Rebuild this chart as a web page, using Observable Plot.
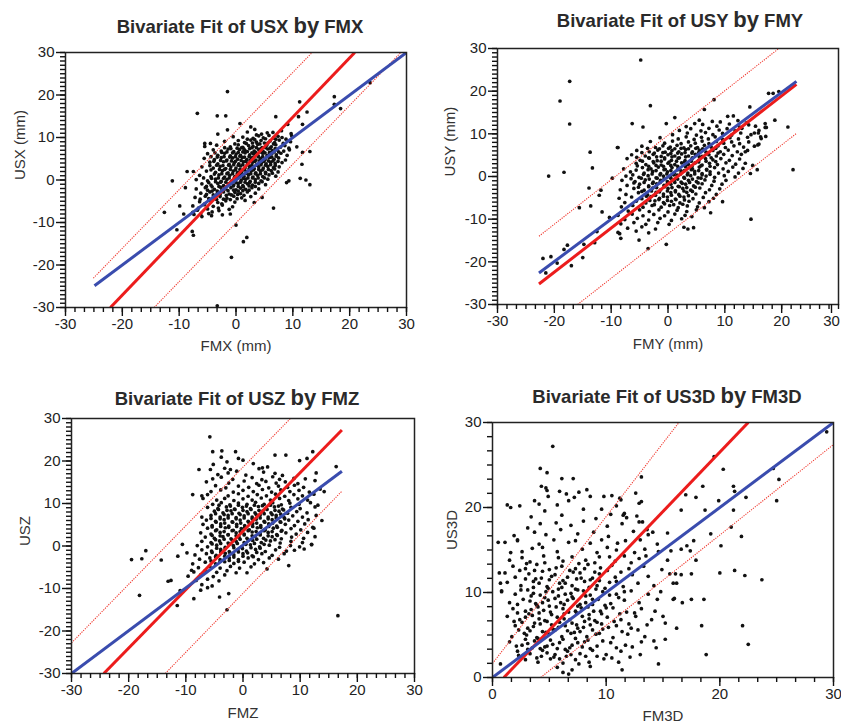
<!DOCTYPE html>
<html><head><meta charset="utf-8">
<script src="https://cdn.jsdelivr.net/npm/d3@7"></script>
<script src="https://cdn.jsdelivr.net/npm/@observablehq/plot@0.6"></script>
<style>
body{margin:0;background:#fff;font-family:"Liberation Sans",Arial,sans-serif;}
#wrap{position:relative;width:841px;height:727px;overflow:hidden;background:#fff;}
.panel{position:absolute;}
.title{position:absolute;font-weight:bold;font-size:18.5px;color:#2a2a2a;white-space:nowrap;transform:translate(-50%,-50%);line-height:1;}
.title .by{font-size:22px;}
</style></head>
<body><div id="wrap"></div>
<script>
// ---------- DATA ----------
const titles = [
  ["Bivariate Fit of USX ", "by", " FMX"],
  ["Bivariate Fit of USY ", "by", " FMY"],
  ["Bivariate Fit of USZ ", "by", " FMZ"],
  ["Bivariate Fit of US3D ", "by", " FM3D"]
];
const xLabels = ["FMX (mm)", "FMY (mm)", "FMZ", "FM3D"];
const yLabels = ["USX (mm)", "USY (mm)", "USZ", "US3D"];
const majorTicksSigned = [-30, -20, -10, 0, 10, 20, 30];
const majorTicks3D = [0, 10, 20, 30];
const minorStepA = 1;       // minor tick spacing (units)
const minorStepB = 10 / 6;  // minor tick spacing (units)

// fit lines: kind, x1, y1, x2, y2
const linesX = [
  {k:"fit", x1:-24.9, y1:-24.9, x2:30, y2:30},
  {k:"ortho", x1:-22.1, y1:-30, x2:20.9, y2:30},
  {k:"band", x1:-25.1, y1:-23.1, x2:13.4, y2:30},
  {k:"band", x1:-14.4, y1:-30, x2:29, y2:30}
];
const linesY = [
  {k:"fit", x1:-22.7, y1:-22.6, x2:22.6, y2:22.3},
  {k:"ortho", x1:-22.7, y1:-25.2, x2:22.6, y2:21.6},
  {k:"band", x1:-22.7, y1:-14.0, x2:19.5, y2:30},
  {k:"band", x1:-15.9, y1:-30, x2:22.6, y2:10.1}
];
const linesZ = [
  {k:"fit", x1:-30, y1:-30, x2:17.3, y2:17.6},
  {k:"ortho", x1:-24.35, y1:-30, x2:17.3, y2:27.3},
  {k:"band", x1:-30, y1:-22.8, x2:8.3, y2:30},
  {k:"band", x1:-13.6, y1:-30, x2:17.3, y2:12.9}
];
const lines3D = [
  {k:"fit", x1:0, y1:0, x2:30, y2:30},
  {k:"ortho", x1:1.0, y1:0, x2:22.5, y2:30},
  {k:"band", x1:0, y1:1.65, x2:16.4, y2:30},
  {k:"band", x1:4.24, y1:0, x2:30, y2:27.4}
];

// [FMX, USX]
const usxFmx = [
[-1.5,20.8],[-6.8,15.7],[-3.3,15.1],[-1.8,15.1],[-1.5,11.8],[0.7,13.3],[2.6,12.5],[-3.2,10.8],[-5.5,8.6],[-5.5,7.9],[-4.5,8.6],[-11.2,-0.2],[-12.6,-7.6],[-10.4,-11.7],[-7.7,-12.1],[-7.5,-13],[-0.8,-18.2],[0,-10.6],[1.3,-14.5],[1.9,-13.5],[6.6,-6.6],[-3.3,-29.6],[11.2,18.4],[12.5,16],[11,14.9],[11.7,13.1],[17.3,19.6],[17.3,17.8],[18.4,16.8],[23.6,22.9],[13,6.7],[11.7,6.5],[11.6,3.7],[11.3,0.4],[12.3,0],[13,-1.1],[8.9,-0.6],[9.3,-0.2],[10.7,7.8],[9.1,13.1],[7,14.9],[-8.6,2],[-7.5,2],[-8.9,-1.8],[-9.9,-6.1],[-9.2,-8],[-6.2,-8],[-4.3,-8.4],[-1,-8],[3.2,-5.3],[4.6,-4.1],
[2,11.3],[4.5,10.8],[6.5,11.2],[8,11.6],[3.3,11.9],[9.7,10.9],
[-0.5,10.2],[3,9.8],[4,10.4],[5.2,9.7],[5.8,10.5],[6.6,9.9],[7.4,10.3],[8.8,9.6],[1.2,10.1],[9.8,10.4],
[-2,9.1],[1.5,8.8],[2.6,9.4],[3.6,8.9],[4.4,9.3],[5,8.7],[6,9.2],[6.8,8.8],[7.6,9.4],[9.6,9],[0.4,9.3],[8.3,8.6],
[-3.4,8.2],[-1,7.8],[0.4,8.3],[1.2,7.7],[2.2,8.1],[3,7.9],[3.8,8.4],[4.6,7.6],[5.4,8.2],[6.2,7.8],[7,8.3],[7.8,7.7],[8.6,8.1],[-0.2,8.5],[9.3,7.5],
[-4,7.1],[-2.6,6.8],[-1.4,7.3],[-0.4,6.7],[0.6,7.2],[1.6,6.9],[2.4,7.4],[3.2,6.8],[4,7.2],[4.8,6.7],[5.6,7.3],[6.4,6.9],[7.2,7.2],[8.4,6.8],[9.4,7.1],[1,7.6],[3.6,7.6],
[-5,6.2],[-3.2,5.8],[-2,6.3],[-1,5.7],[0,6.1],[0.8,5.8],[1.6,6.4],[2.4,5.9],[3.1,6.2],[3.9,5.7],[4.7,6.3],[5.5,5.8],[6.3,6.2],[7.1,5.9],[7.9,6.3],[9,5.8],[-1.6,6.6],[2,6.7],[4.3,6.6],[6.7,6.6],
[-5.6,5.1],[-3.8,4.8],[-2.6,5.3],[-1.6,4.7],[-0.6,5.2],[0.3,4.9],[1.1,5.3],[1.9,4.8],[2.7,5.2],[3.5,4.7],[4.3,5.1],[5.1,4.8],[5.9,5.3],[6.7,4.9],[7.5,5.2],[8.7,4.7],[-4.4,5.5],[0.7,5.6],[2.3,5.5],[3.9,5.5],[5.5,5.5],
[-4.6,4.2],[-3.2,3.8],[-2.2,4.3],[-1.2,3.7],[-0.3,4.1],[0.5,3.8],[1.3,4.3],[2.1,3.9],[2.9,4.2],[3.7,3.7],[4.5,4.1],[5.3,3.8],[6.1,4.2],[6.9,3.9],[8.1,4.1],[-2.7,4.6],[-0.8,4.5],[0.9,4.6],[2.5,4.6],[4.1,4.5],[5.7,4.5],
[-6,3.1],[-4,2.8],[-2.8,3.2],[-1.8,2.7],[-0.9,3.1],[0,2.8],[0.8,3.3],[1.6,2.9],[2.4,3.2],[3.2,2.7],[4,3.1],[4.8,2.8],[5.6,3.2],[6.6,2.9],[7.6,3.1],[-3.4,3.5],[-1.3,3.5],[0.4,3.5],[2,3.6],[3.6,3.5],[5.2,3.5],
[-5.2,2.1],[-3.6,1.8],[-2.4,2.2],[-1.4,1.7],[-0.5,2.1],[0.3,1.8],[1.1,2.3],[1.9,1.9],[2.7,2.2],[3.5,1.7],[4.3,2.1],[5.2,1.8],[6.2,2.2],[7.4,1.9],[-2.9,2.5],[-1,2.5],[0.7,2.5],[2.3,2.6],[4,2.5],
[-6.4,1.1],[-4.4,0.8],[-3,1.2],[-2,0.7],[-1.1,1.1],[-0.2,0.8],[0.6,1.3],[1.4,0.9],[2.2,1.2],[3,0.7],[3.8,1.1],[4.7,0.8],[5.8,1.2],[7,0.9],[-2.5,1.5],[-0.6,1.5],[1,1.6],[2.6,1.5],[4.3,1.5],
[-7,0.1],[-5,-0.2],[-3.6,0.2],[-2.6,-0.3],[-1.6,0.1],[-0.7,-0.2],[0.1,0.3],[0.9,-0.1],[1.7,0.2],[2.5,-0.3],[3.4,0.1],[4.4,-0.2],[5.6,0.2],[-3.1,0.5],[-1.2,0.5],[0.5,0.6],[2.1,0.5],[-4.3,0.4],
[-6,-0.9],[-4.4,-1.2],[-3.2,-0.8],[-2.2,-1.3],[-1.3,-0.9],[-0.4,-1.2],[0.4,-0.8],[1.2,-1.3],[2,-0.9],[2.9,-1.2],[4,-0.8],[5.2,-1.1],[-2.7,-0.5],[-0.9,-0.5],[0.8,-0.5],[-5.2,-1.5],
[-7,-2.1],[-5.4,-1.8],[-3.8,-2.2],[-2.7,-1.7],[-1.8,-2.1],[-0.9,-1.8],[0,-2.3],[0.8,-1.9],[1.7,-2.2],[2.8,-1.8],[4,-2.1],[-3.3,-2.6],[-1.4,-2.5],[0.4,-2.6],
[-6.2,-3.1],[-4.6,-2.8],[-3.3,-3.2],[-2.2,-2.8],[-1.2,-3.3],[-0.2,-2.9],[0.8,-3.2],[2,-2.8],[3.4,-3.1],[-4,-3.5],[-1.7,-3.6],
[-7.2,-4.1],[-5.4,-3.8],[-4,-4.2],[-2.8,-3.9],[-1.6,-4.3],[-0.4,-3.8],[1,-4.2],[2.6,-3.9],[-6.3,-4.5],[-3.4,-4.6],
[-6.4,-5.1],[-4.6,-4.8],[-3.2,-5.3],[-1.8,-4.9],[-0.2,-5.2],[1.6,-4.8],[-5.5,-5.6],[-2.5,-5.6],
[-7.6,-6.1],[-5.6,-5.8],[-4,-6.2],[-2.4,-5.9],[-0.6,-6.3],[-6.6,-6.6],[-3.1,-6.6],
[-6.8,-7.1],[-5,-6.8],[-3,-7.2],[-1.2,-6.9],[-7.6,-7.6],[-4.2,-7.5],
[-7.4,-8.1],[-4.8,-7.9],[-2.4,-8.2],[-6,-8.6],
[1.8,8.6],[2.9,8.7],[4.2,8.5],[5.6,8.7],[6.6,8.5],
[-2,7.6],[-0.9,7.4],[0.2,7.5],[1.4,7.3],[2.8,7.6],[4.4,7.4],[5.2,7.6],[6,7.5],[6.9,7.4],
[-3.7,6.4],[-2.5,6.5],[-0.6,6.4],[0.4,6.5],[1.2,6.6],[2.8,6.4],[3.5,6.5],[5.1,6.4],[5.9,6.5],[7.5,6.6],
[-3.3,5.4],[-2.1,5.5],[-1.1,5.4],[-0.1,5.5],[1.5,5.4],[3.1,5.4],[4.7,5.5],[6.3,5.4],[7.1,5.6],
[-3.9,4.4],[-1.7,4.5],[-0.1,4.4],[1.7,4.4],[3.3,4.4],[4.9,4.4],[6.5,4.5],[7.4,4.4],
[-4.6,3.4],[-2.3,3.4],[-0.4,3.6],[1.2,3.6],[2.8,3.5],[4.4,3.6],[6.1,3.6],[6.9,3.4],
[-4.4,2.4],[-2,2.5],[-0.1,2.4],[1.5,2.4],[3.1,2.4],[4.7,2.4],[5.7,2.5],[6.8,2.6],
[-3.8,1.4],[-1.6,1.5],[0.2,1.4],[1.8,1.6],[3.4,1.5],[5.2,1.5],[6.4,1.6],
[-5.7,0.5],[-2.2,0.4],[-0.3,0.5],[1.3,0.4],[2.9,0.5],[3.9,0.5],[5,0.5],
[-4.8,-0.6],[-3.6,-0.4],[-1.8,-0.5],[0,-0.6],[1.6,-0.5],[2.4,-0.6],[3.4,-0.5],[4.6,-0.4],
[-4.2,-1.6],[-3,-1.5],[-2.1,-1.5],[-0.5,-1.4],[0.4,-1.5],[1.3,-1.6],[2.3,-1.4],[3.4,-1.5],
[-5,-2.4],[-4.2,-2.6],[-2.5,-2.4],[-0.4,-2.4],[1.2,-2.5],[2.3,-2.4],
[-5.2,-3.4],[-2.8,-3.4],[-0.8,-3.5],[0.3,-3.4],[1.4,-3.6],
[-4.8,-4.4],[-2.2,-4.5],[-1,-4.6],[0.2,-4.4],
[2,9.6],[3.3,9.5],[4.8,9.9],[7,9.6],[8.1,10],[3.6,10.6],[5.5,11.1]
];

// [FMY, USY]
const usyFmy = [
[-4.8,27.3],[-17.3,22.3],[-19,17.7],[-17.3,12.3],[-21,0.1],[-18.3,1],[-22,-19.2],[-20.6,-18.8],[-17,-20.9],[-3.1,16.6],[-6.3,12.4],[-4.4,11.6],[-0.3,12.4],[1.2,13.8],[8.1,18],[6.4,15.7],[14.4,16.3],[17.7,19.5],[18.5,19.5],[17.1,12.4],[17.1,11.5],[21.1,11.6],[22,1.6],[14.5,0.7],[15.7,1.6],[14.6,-10],[9.6,-5.9],[7.5,-8.5],[4.5,-12],[-0.3,-15.9],[-3.5,-16.9],[-5.1,-14.9],[-8.5,-13.4],[-8.3,-14.5],[-13.7,5.7],[-13.3,2],[-13.9,-2.7],[-13.6,-6.9],[-15.6,-7.3],[-15,-19],[-14.8,-15.9],[-12.9,-15.5],[-11.6,-8.3],[-11.8,-3.2],[-8.8,6.8],[-17.7,-16.1],[-18.3,-17.1],[-19.5,-20.3],[-21.5,-22.6],[-12.5,-12.9],[-10.3,-9.6],[-9.8,-0.4],[-12.1,-4.4],[15.2,10.2],[16.3,9.3],[14.9,2.6],[13.6,5.8],[16,7.6],[18.8,13.2],[19.5,19.9],
[5.5,13.2],[9.2,12.8],[10.5,14.1],[11.5,14.2],[12.3,13.1],[13.8,12.6],[7.8,12.9],
[3.2,11.7],[6.1,12.2],[8.6,11.8],[10.8,12.3],[12.6,11.6],[14.2,12.1],[15.4,11.8],[4.7,12.4],
[2,10.8],[4,11.2],[5.8,10.7],[7.2,11.3],[9,10.9],[10.4,11.2],[11.8,10.7],[13,11.3],[16,10.8],[17.3,11.5],
[0.8,9.8],[3.4,10.2],[5,9.7],[6.6,10.3],[7.9,9.8],[9.6,10.1],[11.2,9.7],[12.8,10.2],[14.6,9.8],[15.9,10.2],[17.2,9.4],
[-1.4,9.1],[1.8,8.8],[3.2,9.3],[4.6,8.7],[5.9,9.2],[7.1,8.8],[8.3,9.3],[9.6,8.7],[10.9,9.1],[12.4,8.8],[14,9.2],[16.4,8.9],
[-3.1,8.2],[-0.6,7.8],[0.8,8.3],[2.3,7.7],[3.6,8.1],[4.8,7.8],[6,8.3],[7.2,7.7],[8.5,8.2],[9.8,7.8],[11.2,8.1],[12.6,7.7],[14.2,8.1],[15.8,7.4],
[-8.9,6.8],[-4.6,7.1],[-2.2,6.8],[-0.9,7.2],[0.4,6.9],[1.6,7.3],[2.8,6.7],[4,7.2],[5.2,6.8],[6.4,7.3],[7.6,6.9],[8.8,7.2],[10.1,6.8],[11.6,7.2],[13.3,6.9],[15.2,7.1],
[-5.5,6.1],[-3.3,5.8],[-1.8,6.2],[-0.5,5.7],[0.7,6.1],[1.9,5.8],[3.1,6.3],[4.3,5.8],[5.5,6.2],[6.7,5.7],[7.9,6.1],[9.2,5.8],[10.6,6.2],[12.2,5.8],[14,6.1],
[-6.4,5.1],[-4,4.8],[-2.6,5.2],[-1.2,4.7],[0,5.1],[1.2,4.8],[2.4,5.3],[3.6,4.8],[4.8,5.2],[6,4.7],[7.2,5.1],[8.5,4.8],[9.8,5.2],[11.3,4.9],[12.9,5.2],
[-7.2,4.2],[-4.9,3.8],[-3.3,4.3],[-1.9,3.7],[-0.6,4.1],[0.6,3.8],[1.8,4.3],[3,3.7],[4.2,4.1],[5.4,3.8],[6.6,4.2],[7.9,3.9],[9.3,4.2],[10.8,3.8],[12.6,4.1],
[-5.6,3.1],[-3.9,2.8],[-2.5,3.2],[-1.2,2.7],[0,3.1],[1.2,2.8],[2.4,3.2],[3.6,2.8],[4.8,3.2],[6,2.7],[7.3,3.1],[8.7,2.8],[10.2,3.2],[11.9,2.9],[13.6,3.1],
[-7.8,1.8],[-4.5,2.1],[-3,1.8],[-1.7,2.2],[-0.5,1.7],[0.7,2.1],[1.9,1.8],[3.1,2.3],[4.3,1.8],[5.5,2.2],[6.8,1.7],[8.2,2.1],[9.7,1.8],[11.4,2.2],[13.2,1.9],
[-6.6,1.1],[-4.2,0.8],[-2.7,1.2],[-1.3,0.7],[-0.1,1.1],[1.1,0.8],[2.3,1.3],[3.5,0.8],[4.7,1.2],[6,0.7],[7.4,1.1],[8.9,0.8],[10.6,1.2],[12.4,0.8],
[-7.4,0.1],[-5.1,-0.2],[-3.5,0.2],[-2.1,-0.3],[-0.8,0.1],[0.4,-0.2],[1.6,0.3],[2.8,-0.2],[4,0.2],[5.3,-0.3],[6.7,0.1],[8.2,-0.2],[9.9,0.2],[11.8,-0.1],
[-8.1,-0.9],[-5.8,-1.2],[-4,-0.8],[-2.6,-1.3],[-1.3,-0.9],[-0.1,-1.2],[1.1,-0.8],[2.3,-1.3],[3.6,-0.9],[5,-1.2],[6.5,-0.8],[8.1,-1.1],[10.2,-0.9],
[-7.2,-2.1],[-5,-1.8],[-3.4,-2.2],[-2,-1.7],[-0.7,-2.1],[0.5,-1.8],[1.8,-2.3],[3.1,-1.8],[4.5,-2.2],[6,-1.7],[7.7,-2.1],[9.5,-1.8],
[-8.4,-3.1],[-6,-2.8],[-4.2,-3.2],[-2.7,-2.7],[-1.3,-3.1],[0,-2.8],[1.3,-3.3],[2.6,-2.8],[4,-3.2],[5.6,-2.7],[7.3,-3.1],[9.1,-2.9],
[-7.4,-4.2],[-5.2,-3.8],[-3.6,-4.3],[-2.1,-3.7],[-0.8,-4.1],[0.5,-3.8],[1.9,-4.2],[3.3,-3.7],[4.9,-4.1],[6.6,-3.8],[8.5,-4.2],
[-8.6,-5.1],[-6.4,-4.8],[-4.6,-5.2],[-3,-4.7],[-1.5,-5.1],[-0.1,-4.8],[1.3,-5.3],[2.8,-4.8],[4.4,-5.2],[6.2,-4.9],[8,-5.1],
[-7.6,-6.1],[-5.6,-5.8],[-3.9,-6.2],[-2.3,-5.7],[-0.8,-6.1],[0.6,-5.8],[2.1,-6.2],[3.7,-5.8],[5.5,-6.2],[7.2,-5.9],
[-8.2,-7.1],[-6.2,-6.8],[-4.4,-7.2],[-2.8,-6.8],[-1.2,-7.2],[0.3,-6.8],[1.8,-7.3],[3.4,-6.9],[5.2,-7.1],[6.4,-7.3],
[-7,-8.1],[-5,-7.8],[-3.3,-8.2],[-1.6,-7.8],[0,-8.3],[1.6,-7.9],[3.3,-8.2],[5,-7.8],
[-8.8,-9.1],[-6.3,-8.8],[-4.4,-9.2],[-2.5,-8.9],[-0.6,-9.2],[1.2,-8.8],[3,-9.1],[4.2,-9.4],
[-7.6,-10.1],[-5.4,-9.8],[-3.4,-10.2],[-1.4,-9.8],[0.6,-10.3],[2.4,-9.9],
[-8.3,-11.1],[-6,-10.8],[-3.9,-11.2],[-1.8,-10.8],[0.2,-11.2],
[-7.1,-12.1],[-4.6,-11.8],[-2.2,-12.3],[2.8,-11.9],[3.5,-12.3],
[-8.8,-13.1],[-5.6,-12.8],[-3.4,-13.2],
[-3.6,6.6],[-1.5,6.5],[0.1,6.6],[1.2,6.5],[2.3,6.6],[3.6,6.5],[4.9,6.6],[6.1,6.5],[8.4,6.6],
[-4.6,5.6],[-2.4,5.5],[-0.9,5.6],[0.5,5.4],[1.7,5.5],[3,5.6],[4.2,5.5],[5.4,5.6],[7,5.4],[8.8,5.5],
[-5.5,4.5],[-3.4,4.4],[-2,4.6],[-0.6,4.4],[0.7,4.6],[2,4.4],[3.1,4.6],[4.3,4.4],[5.5,4.6],[7.6,4.4],
[-4.5,3.6],[-2.6,3.5],[-1.2,3.6],[0.2,3.4],[1.5,3.6],[2.9,3.4],[4.1,3.6],[5.4,3.4],[6.7,3.6],[8.4,3.5],
[-5.4,2.5],[-3.4,2.4],[-2.1,2.6],[-0.8,2.4],[0.5,2.6],[1.7,2.4],[3,2.6],[4.2,2.4],[5.8,2.5],[7.4,2.4],
[-5.6,1.5],[-3.5,1.6],[-2.1,1.4],[-0.7,1.6],[0.5,1.4],[1.7,1.6],[2.9,1.4],[4.1,1.6],[5.4,1.4],[6.8,1.5],
[-6.2,0.4],[-4.3,0.5],[-2.8,0.6],[-1.4,0.4],[-0.2,0.6],[1,0.4],[2.2,0.6],[3.4,0.4],[4.7,0.6],[6,0.4],[7.4,0.5],
[-6.5,-0.5],[-4.7,-0.4],[-3.3,-0.6],[-1.9,-0.4],[-0.7,-0.6],[0.5,-0.4],[1.7,-0.6],[2.9,-0.4],[4.3,-0.6],[5.8,-0.4],
[-6,-1.5],[-4.2,-1.4],[-2.7,-1.6],[-1.4,-1.4],[-0.1,-1.6],[1.2,-1.4],[2.5,-1.6],[3.8,-1.4],[5.3,-1.5],
[-5.2,-2.5],[-3.4,-2.4],[-2,-2.6],[-0.6,-2.4],[0.7,-2.6],[2,-2.4],[3.3,-2.6],[4.8,-2.5],
[-4.6,-3.5],[-2.9,-3.4],[-1.5,-3.6],[-0.1,-3.4],[1.3,-3.6],[2.8,-3.4],[4.3,-3.5],
[-3.8,-4.6],[-2.2,-4.4],[-0.8,-4.6],[0.6,-4.4],[2.1,-4.6],[3.6,-4.5],
[-3.2,-5.6],[-1.6,-5.4],[-0.1,-5.6],[1.4,-5.4],[2.9,-5.5],
[-2.4,-6.6],[-0.6,-6.4],[1,-6.6],[2.6,-6.5]
];

// [FMZ, USZ]
const uszFmz = [
[-5.8,25.7],[-5.3,22.2],[-3.7,22.4],[-1.3,22.2],[0,20.2],[-7.7,18],[-5.7,18],[-2.2,18],[5.6,21.4],[7.5,21.4],[12.2,22.2],[9.9,20.1],[16.3,18.7],[-8.8,12.1],[-7.2,11.8],[-19.5,-3.2],[-17.7,-3],[-17,-1.1],[-14.3,-3.3],[-18.1,-11.6],[-13.1,-8.3],[-12.6,-8.1],[-11.5,-14],[-11,-10.5],[-8.6,-12.4],[-4.1,-12],[-2.8,-15],[-2.5,-11.2],[16.6,-16.4],[13.8,6],[12.2,4.4],[10.7,-0.7],[12,0.3],[8,-4.6],[4.2,-5.4],[0.7,-6.3],[12.6,15.4],[13.5,13.4],[10.9,15.8],[-9.8,-1.6],[-11.4,-2.4],[-10.6,0.4],[-3.8,20.9],[-2.8,19.8],[-0.8,20.6],[1.8,19.4],[-5.2,19.2],[3.4,18.4],[11.2,20.6],[12.8,17.2],[14.2,12.8],[13.1,9.6],[-9,-5.7],[-6.2,-9.8],[-7.4,-10.4],
[-3.2,18.3],[-1.1,17.6],[2.8,18.2],[4.3,18.6],[3.6,17.4],
[-4.4,16.8],[-2.6,17.2],[0.5,16.7],[5.6,17.1],[6.9,16.6],
[-5.3,15.8],[-3.8,16.2],[-1.8,15.7],[1.6,16.1],[3.3,15.6],[5.2,16.3],[6.4,15.7],[8.9,15.9],
[-6.4,15.1],[-2.5,14.8],[0.2,15.3],[2.4,14.7],[4,15.2],[5.8,14.8],[7.4,15.1],[9.6,14.7],
[-4.8,14.2],[-3,13.7],[-0.8,14.1],[1,13.8],[2.8,14.3],[4.5,13.7],[6.2,14.1],[7.8,13.8],[9,14.3],[10.6,13.8],
[-5.6,12.8],[-3.9,13.2],[-1.7,12.7],[0,13.1],[1.8,12.8],[3.4,13.3],[5,12.7],[6.6,13.2],[8.2,12.8],[9.8,13.1],[11.6,12.7],
[-6.2,12.1],[-2.6,11.8],[-0.8,12.3],[0.9,11.7],[2.5,12.1],[4.1,11.8],[5.7,12.2],[7.3,11.7],[8.9,12.1],[10.4,11.8],[12.4,12.2],
[-7,11.2],[-4.6,10.8],[-3.2,11.2],[-1.6,10.7],[0,11.1],[1.6,10.8],[3.2,11.3],[4.8,10.8],[6.4,11.2],[8,10.7],[9.6,11.1],[11.3,10.8],
[-5.3,9.8],[-3.8,10.2],[-2.3,9.7],[-0.8,10.1],[0.7,9.8],[2.2,10.3],[3.7,9.8],[5.2,10.2],[6.7,9.7],[8.2,10.1],[9.8,9.8],[11.8,10.2],
[-6.2,9.1],[-4.4,8.8],[-2.9,9.2],[-1.5,8.7],[-0.1,9.1],[1.3,8.8],[2.7,9.3],[4.1,8.8],[5.5,9.2],[6.9,8.7],[8.4,9.1],[10,8.8],[12.6,9.2],
[-5,8.2],[-3.5,7.8],[-2.1,8.3],[-0.7,7.7],[0.7,8.1],[2.1,7.8],[3.5,8.3],[4.9,7.8],[6.3,8.2],[7.8,7.7],[9.4,8.1],[11.2,7.8],
[-7.2,6.8],[-5.6,7.2],[-4,6.8],[-2.6,7.2],[-1.2,6.7],[0.2,7.1],[1.6,6.8],[3,7.3],[4.4,6.8],[5.8,7.2],[7.2,6.7],[8.7,7.1],[10.4,6.8],[12.8,7.2],
[-6.4,6.1],[-4.8,5.8],[-3.3,6.2],[-1.9,5.7],[-0.5,6.1],[0.9,5.8],[2.3,6.3],[3.7,5.8],[5.1,6.2],[6.5,5.7],[8,6.1],[9.6,5.8],[11.4,6.2],
[-7,5.1],[-5.4,4.8],[-3.9,5.2],[-2.5,4.7],[-1.1,5.1],[0.3,4.8],[1.7,5.3],[3.1,4.8],[4.5,5.2],[5.9,4.7],[7.4,5.1],[9,4.8],[10.8,5.2],
[-6.2,4.2],[-4.6,3.8],[-3.1,4.3],[-1.7,3.7],[-0.3,4.1],[1.1,3.8],[2.5,4.3],[3.9,3.8],[5.3,4.2],[6.8,3.7],[8.4,4.1],[10.1,3.8],[12.4,4.2],
[-7.4,3.1],[-5.6,2.8],[-4,3.2],[-2.6,2.7],[-1.2,3.1],[0.2,2.8],[1.6,3.3],[3,2.8],[4.4,3.2],[5.9,2.7],[7.5,3.1],[9.3,2.8],[11.3,3.2],
[-6.6,2.1],[-5,1.8],[-3.5,2.2],[-2.1,1.7],[-0.7,2.1],[0.7,1.8],[2.1,2.3],[3.6,1.8],[5.1,2.2],[6.7,1.7],[8.5,2.1],[10.6,1.8],[12.6,2.2],
[-7.2,1.1],[-5.6,0.8],[-4.1,1.2],[-2.6,0.7],[-1.2,1.1],[0.2,0.8],[1.7,1.3],[3.2,0.8],[4.8,1.2],[6.5,0.7],[8.4,1.1],[10.4,0.8],[12,0.4],
[-8,0.1],[-6.2,-0.2],[-4.6,0.2],[-3.1,-0.3],[-1.7,0.1],[-0.2,-0.2],[1.3,0.3],[2.9,-0.2],[4.6,0.2],[6.4,-0.3],[8.3,0.1],[9.9,-0.2],
[-7.2,-0.9],[-5.5,-1.2],[-3.9,-0.8],[-2.4,-1.3],[-0.9,-0.9],[0.6,-1.2],[2.2,-0.8],[3.9,-1.3],[5.7,-0.9],[7.6,-1.2],[9,-1],
[-8.4,-2.1],[-6.4,-1.8],[-4.7,-2.2],[-3.1,-1.7],[-1.6,-2.1],[0,-1.8],[1.6,-2.3],[3.3,-1.8],[5.1,-2.2],[7.2,-1.8],
[-7.6,-3.1],[-5.8,-2.8],[-4,-3.2],[-2.4,-2.8],[-0.8,-3.2],[0.9,-2.8],[2.7,-3.2],[4.6,-2.8],[6.2,-3.1],
[-8.8,-4.2],[-6.6,-3.8],[-4.8,-4.2],[-3.2,-3.7],[-1.6,-4.1],[0.2,-3.8],[2,-4.2],[3.6,-3.9],
[-7.8,-5.1],[-5.8,-4.8],[-4,-5.2],[-2.2,-4.8],[-0.6,-5.2],[1.4,-4.9],
[-8.6,-6.1],[-6.6,-5.8],[-4.6,-6.2],[-2.8,-5.8],[-1.2,-6.3],
[-9.6,-7.1],[-7.4,-6.8],[-5.2,-7.2],[-3.2,-6.8],
[-8.2,-8.1],[-6.2,-7.8],[-4.2,-8.2],
[-7.2,-9.1],[-5.4,-9.4],
[-4.2,9.6],[-2.2,9.4],[-0.8,9.6],[0.6,9.4],[2,9.6],[3.4,9.5],[4.8,9.6],[6.2,9.4],
[-4.3,8.6],[-2.8,8.4],[-1.4,8.6],[0,8.4],[1.4,8.6],[2.8,8.4],[4.2,8.6],[5.6,8.4],[7.1,8.5],
[-4.8,7.6],[-3.3,7.4],[-1.9,7.6],[-0.5,7.4],[0.9,7.6],[2.3,7.4],[3.7,7.6],[5.1,7.4],[6.6,7.5],
[-5.6,6.5],[-4,6.4],[-2.6,6.6],[-1.2,6.4],[0.2,6.6],[1.6,6.4],[3,6.6],[4.4,6.4],[5.8,6.6],[7.3,6.4],
[-4.7,5.6],[-3.2,5.4],[-1.8,5.6],[-0.4,5.4],[1,5.6],[2.4,5.4],[3.8,5.6],[5.2,5.4],[6.6,5.6],
[-5.4,4.5],[-3.9,4.6],[-2.5,4.4],[-1.1,4.6],[0.3,4.4],[1.7,4.6],[3.1,4.4],[4.5,4.6],[6,4.4],
[-4.8,3.6],[-3.3,3.4],[-1.9,3.6],[-0.5,3.4],[0.9,3.6],[2.3,3.4],[3.7,3.6],[5.1,3.4],[6.7,3.5],
[-5.4,2.5],[-4,2.4],[-2.6,2.6],[-1.2,2.4],[0.2,2.6],[1.6,2.4],[3,2.6],[4.4,2.4],[6,2.5],
[-4.8,1.5],[-3.3,1.6],[-1.9,1.4],[-0.5,1.6],[0.9,1.4],[2.4,1.6],[4,1.4],[5.6,1.5],
[-5.4,0.5],[-3.9,0.6],[-2.4,0.4],[-1,0.6],[0.5,0.4],[2,0.6],[3.7,0.4],
[-4.6,-0.5],[-3.1,-0.6],[-1.6,-0.4],[-0.1,-0.6],[1.4,-0.4],[3,-0.5],
[-5.4,-1.5],[-3.9,-1.4],[-2.3,-1.6],[-0.8,-1.4],[0.8,-1.6],[2.4,-1.5],
[-4.8,-2.5],[-3.2,-2.4],[-1.6,-2.6],[0,-2.4],[1.8,-2.5],
[-5.6,-3.5],[-4,-3.6],[-2.4,-3.4],[-0.8,-3.6]
];

// [FM3D, US3D]
const us3dFm3d = [
[29.4,28.9],[24.7,24.6],[25.2,23.3],[25,20.8],[20.3,24.5],[19.5,26],[21.2,22.5],[21.3,21.9],[22.3,21.2],[19.9,20.8],[21.2,19.7],[21,17.7],[21.9,16.6],[20.1,15.5],[19.2,16.9],[20,12.3],[21.3,12.6],[22.2,12],[23.7,11.5],[22,6.1],[22.5,3.9],[18.8,2.7],[18.6,9.2],[18.4,6.1],[18.5,22.5],[18.7,19.7],[17.9,21.2],[17,21.5],[16.6,19.7],[13.1,23.6],[5.3,27.2],[4.2,24.6],[4.8,24.1],[6.1,23.4],[4.3,22.5],[4.7,22.3],[4.8,22],[0.5,15.9],[1.3,20.3],[1.6,20],[2.4,20.2],[3.7,20.8],[4.1,20.4],[14.6,1.6],[11.4,0.9],[6.7,0.4],[0.7,1.6],[0.7,11.1],[0.8,10.1],[1.1,12.3],[1.6,14.7],[2.2,16.2],[15.4,17],[16.6,15.1],[17.1,15.5],[17.4,14.9],[17.7,16.1],[17.9,13.8],[16.1,12.2],[16.2,11.1],[17.5,12.2],[17.5,9.2],[16.7,8.8],[15.9,9.2],[15.2,4.5],[14.4,3.5],[16.2,5.8],[12.6,21.7],[11.6,19.3],[9.8,21.3],[7.1,23.4],
[5.9,21.9],[7.6,21.8],[8.3,22.1],[6.5,21.6],
[4.9,21.3],[6.7,20.8],[7.2,21.2],[8.6,21.3],[10.5,21.4],[11.2,21.1],[11.3,20.9],
[5.7,20.3],[8,19.8],[9.6,19.8],[10.9,20.2],[13.1,20.7],[12.9,20.5],[4.6,19.6],
[3.4,18.9],[6.1,19.1],[9.1,18.7],[10.4,19.2],[11.5,19.1],[11.8,18.8],[13.2,18.3],[12.7,19],
[3.1,17.6],[4.2,18.1],[5.6,18.2],[6.9,17.9],[8,18.4],[10.1,17.8],[11.4,18.1],[12.9,18.3],[13.6,17.4],
[1.9,16.7],[3.7,17.1],[4.7,16.8],[6,17.4],[7.5,16.9],[8.9,17.1],[10.2,16.6],[12.4,17.2],[13.7,16.8],[14.1,17.1],
[1.1,15.9],[2.2,16.1],[4.1,15.7],[5.4,16.2],[6.7,15.9],[7.3,16.1],[8.6,15.8],[9.6,16.2],[11,15.8],[11.7,16.1],[13,16.2],[14.5,15.7],
[2.6,14.8],[3.5,15.2],[4.4,15.3],[5.7,14.8],[7.9,15.1],[9.2,14.7],[10.1,15.3],[10.9,15],[12.5,14.7],[13.4,15.1],[14.6,14.8],[15.7,14.9],
[1.5,13.8],[2.6,14.1],[3.3,13.6],[4.5,14.3],[6.2,13.7],[7,14.2],[8.2,13.8],[9.4,14.2],[10.8,13.7],[11.6,14.3],[12.9,14],[13.5,14.3],[15.4,13.8],
[1.8,13.1],[2.9,12.8],[3.9,13.3],[5,12.7],[6.1,13.1],[7.3,12.8],[8.4,13.3],[9.5,12.9],[10.5,13.2],[12,12.8],[13.3,13.1],[14.9,12.7],
[0.6,12.3],[2,11.8],[3.2,12.2],[4.3,11.7],[5.5,12.1],[6.6,11.8],[7.7,12.3],[8.8,11.7],[9.4,12.2],[10.8,11.8],[12.3,12.1],[13.7,11.9],[15.6,12.2],[16.6,12.1],
[1.3,11.2],[2.5,10.8],[3.6,11.3],[4.8,10.7],[5.9,11.1],[7,10.8],[8.1,11.3],[9.2,10.8],[10.3,11.2],[11.5,10.7],[12.8,11.1],[14.2,10.8],[15.9,11.1],
[0.8,10.2],[2,9.8],[3.1,10.3],[4.2,9.7],[5.3,10.1],[6.4,9.8],[7.5,10.3],[8.6,9.7],[9.7,10.1],[10.9,9.8],[12.2,10.2],[13.7,9.8],[14.8,10.1],
[1.5,8.8],[2.7,9.2],[3.8,8.7],[4.9,9.1],[6,8.8],[7.1,9.3],[8.2,8.8],[9.3,9.2],[10.4,8.7],[11.6,9.1],[12.9,8.8],[14.5,9.2],[16,9.3],
[1.8,8.1],[2.9,7.8],[4,8.3],[5.1,7.7],[6.2,8.1],[7.3,7.8],[8.4,8.3],[9.5,7.8],[10.6,8.2],[11.8,7.7],[13.1,8.1],[14.3,7.8],
[1.3,7.2],[2.4,6.8],[3.5,7.3],[4.6,6.7],[5.7,7.1],[6.8,6.8],[7.9,7.2],[9,6.7],[10.1,7.1],[11.3,6.8],[12.6,7.2],[14,6.8],[15,7.2],
[2,6.1],[3.1,5.8],[4.2,6.3],[5.3,5.7],[6.4,6.1],[7.5,5.8],[8.6,6.2],[9.7,5.7],[10.9,6.1],[12.2,5.8],[13.6,6.2],[15.2,6.4],
[1.7,4.8],[2.8,5.2],[3.9,4.7],[5,5.1],[6.1,4.8],[7.2,5.3],[8.3,4.8],[9.4,5.2],[10.6,4.7],[11.9,5.1],[13.4,4.8],
[1.5,4.2],[2.6,3.8],[3.7,4.3],[4.8,3.7],[5.9,4.1],[7,3.8],[8.1,4.2],[9.2,3.7],[10.4,4.1],[11.7,3.8],[13.1,4.2],[14.2,4.3],
[2.2,3.1],[3.3,2.8],[4.4,3.2],[5.5,2.7],[6.6,3.1],[7.7,2.8],[8.8,3.2],[10,2.7],[11.3,3.1],[13,2.7],
[2.9,2.1],[4,1.8],[5.1,2.2],[6.2,1.7],[7.3,2.1],[8.5,1.8],[9.8,2.2],[11.1,1.8],
[5.7,1.2],[7,0.9],[8.6,1.3],[6.2,0.6],
[3.4,9.6],[4.6,9.4],[5.8,9.6],[7,9.5],[8.2,9.6],[3.9,8.5],[5,8.4],[6.3,8.6],[7.5,8.4],[8.8,8.6],[3.2,7.5],[4.1,7.6],[5.2,7.4],[6.3,7.5],[7.4,7.6],[8.5,7.4],[9.6,7.5],[2.6,6.5],[3.7,6.4],[4.8,6.6],[5.9,6.5],[7,6.4],[8.1,6.6],[9.2,6.5],[3.3,5.5],[4.4,5.4],[5.5,5.6],[6.6,5.5],[7.7,5.4],[8.8,5.6],[2.9,4.5],[4,4.6],[5.1,4.4],[6.2,4.5],[7.3,4.6],[8.4,4.4],[3.5,3.5],[4.6,3.6],[5.7,3.4],[6.8,3.5],[7.9,3.6],[4.3,2.5],[5.4,2.4],[6.5,2.5],[3.8,11.6],[5,11.5],[6.2,11.4],[7.4,11.6],[8.6,11.5],[4.4,12.5],[6.8,12.6],[9,12.4],[3.6,10.6],[4.9,10.5],[6.1,10.6],[7.3,10.4],[8.5,10.6],[9.9,10.5],
[2.3,2.6],[3.1,3.3],[3.9,2.3],[4.8,2.9],[5.9,2.2],[6.9,2.7],[7.6,1.6],[8.2,2.5],[9.2,2.5],[10.5,2.3],[12.1,2.4],
[2.1,3.7],[3.1,4],[4.2,3.4],[5.3,3.9],[6.4,3.3],[7.5,4.1],[8.6,3.4],[9.7,4.3],[10.9,3.5],[12.3,3.6],
[2.3,5.6],[3,5],[3.6,6],[4.7,5.3],[5.8,5.9],[6.9,5.2],[8,5.9],[9.1,5.1],[10.2,5.9],[11.4,5.4],[12.8,5.6],
[1.9,6.6],[2.9,7.1],[4.1,6.9],[5.2,6.2],[6.3,6.9],[7.4,6.2],[8.5,6.9],[9.6,6.3],[10.7,6.6],[12,6.3],
[2.2,7.6],[3.4,8],[4.5,7.9],[5.6,8.3],[6.7,7.7],[7.8,8.2],[8.9,7.8],[10,8.2],[11.2,7.5],[12.5,7.6],
[2.2,8.6],[3.3,9],[4.4,8.8],[5.5,9.3],[6.6,9.1],[7.7,8.6],[8.8,9.2],[9.9,8.5],[11.1,9.4],
[2.5,10.3],[3.6,9.9],[4.7,10.1],[5.8,10.4],[6.9,9.9],[8,10.2],[9.1,10.4],[10.3,9.7],[11.6,10.1],
[2.9,11.6],[4.1,11.1],[5.2,11.9],[6.4,11.1],[7.8,11.7],[9.4,11.4],[10.9,11.3],
[2.4,12.6],[3.7,12.6],[5.6,12.9],[7.1,12.4],[8.1,12.8],[10.1,12.6],[11.3,12.4],
[3,13.4],[4.6,13.5],[5.8,14.1],[7.6,13.4],[9,13.5],[10.3,14.2],[12.2,13.5]
];

// ---------- DRAW ----------
function steps(a, b, s) { const out = []; for (let i = 0; a + i * s <= b + 1e-9; i++) out.push(+(a + i * s).toFixed(4)); return out; }

const panels = [
  {pts: usxFmx, lines: linesX, left: 0, top: 0, width: 420, height: 365, m: [52, 14, 58, 65],
   xd: [-30, 30], yd: [-30, 30], major: majorTicksSigned, mx: minorStepB, my: minorStepA,
   xdy: 43, ydx: -45, title: titles[0], tx: 240, ty: 26, lastDx: 0},
  {pts: usyFmy, lines: linesY, left: 420, top: 0, width: 421, height: 365, m: [48, 3, 61, 77],
   xd: [-30, 30], yd: [-30, 30], major: majorTicksSigned, mx: minorStepB, my: minorStepA,
   xdy: 44, ydx: -47, title: titles[1], tx: 680, ty: 20, lastDx: -7},
  {pts: uszFmz, lines: linesZ, left: 0, top: 365, width: 420, height: 362, m: [53, 6, 54, 71],
   xd: [-30, 30], yd: [-30, 30], major: majorTicksSigned, mx: minorStepB, my: minorStepA,
   xdy: 44, ydx: -46, title: titles[2], tx: 237, ty: 398, lastDx: 0},
  {pts: us3dFm3d, lines: lines3D, left: 420, top: 365, width: 421, height: 362, m: [57, 8, 50, 72],
   xd: [0, 30], yd: [0, 30], major: majorTicks3D, mx: minorStepB, my: minorStepB,
   xdy: 43, ydx: -40, title: titles[3], tx: 667, ty: 396, lastDx: 0}
];

const wrap = document.getElementById("wrap");
panels.forEach((p, i) => {
  const fmt = d => String(d);
  const lastTick = p.major[p.major.length - 1];
  const chart = Plot.plot({
    width: p.width, height: p.height,
    marginTop: p.m[0], marginRight: p.m[1], marginBottom: p.m[2], marginLeft: p.m[3],
    x: {domain: p.xd, label: null},
    y: {domain: p.yd, label: null},
    style: {fontFamily: "'Liberation Sans', Arial, sans-serif", fontSize: "15px", color: "#222", background: "transparent", overflow: "visible"},
    marks: [
      Plot.dot(p.pts, {x: d => d[0], y: d => d[1], r: 1.85, fill: "#111", stroke: null}),
      Plot.link(p.lines.filter(l => l.k === "band"), {x1: "x1", y1: "y1", x2: "x2", y2: "y2", stroke: "#f03a30", strokeWidth: 1.1, strokeDasharray: "1.2,1.2", clip: true}),
      Plot.link(p.lines.filter(l => l.k === "ortho"), {x1: "x1", y1: "y1", x2: "x2", y2: "y2", stroke: "#ec1c1c", strokeWidth: 3, clip: true}),
      Plot.link(p.lines.filter(l => l.k === "fit"), {x1: "x1", y1: "y1", x2: "x2", y2: "y2", stroke: "#3a4cae", strokeWidth: 3, clip: true}),
      Plot.frame({stroke: "#222", strokeWidth: 1.5}),
      // minor ticks (outward)
      Plot.axisX({ticks: steps(p.xd[0], p.xd[1], p.mx), tickSize: 5, tickFormat: () => "", label: null, stroke: "#111", strokeWidth: 1.4}),
      Plot.axisY({ticks: steps(p.yd[0], p.yd[1], p.my), tickSize: 5, tickFormat: () => "", label: null, stroke: "#111", strokeWidth: 1.4}),
      // major ticks + labels
      Plot.axisX({ticks: p.major.slice(0, -1), tickSize: 9, tickPadding: 2, tickFormat: fmt, label: null, fontSize: 15, stroke: "#111", strokeWidth: 1.4, fill: "#222"}),
      Plot.axisX({ticks: [lastTick], tickSize: 9, tickPadding: 2, tickFormat: fmt, label: null, fontSize: 15, stroke: "#111", strokeWidth: 1.4, fill: "#222", dx: p.lastDx}),
      Plot.axisY({ticks: p.major, tickSize: 9, tickPadding: 2, tickFormat: fmt, label: null, fontSize: 15, stroke: "#111", strokeWidth: 1.4, fill: "#222"}),
      Plot.text([xLabels[i]], {text: d => d, frameAnchor: "bottom", dy: p.xdy, fontSize: 15, fill: "#333"}),
      Plot.text([yLabels[i]], {text: d => d, frameAnchor: "left", dx: p.ydx, rotate: -90, fontSize: 15, fill: "#333"})
    ]
  });
  chart.classList.add("panel");
  chart.style.left = p.left + "px";
  chart.style.top = p.top + "px";
  wrap.appendChild(chart);

  const t = document.createElement("div");
  t.className = "title";
  t.style.left = p.tx + "px";
  t.style.top = p.ty + "px";
  t.innerHTML = p.title[0] + '<span class="by">' + p.title[1] + '</span>' + p.title[2];
  wrap.appendChild(t);
});
</script>
</body></html>
